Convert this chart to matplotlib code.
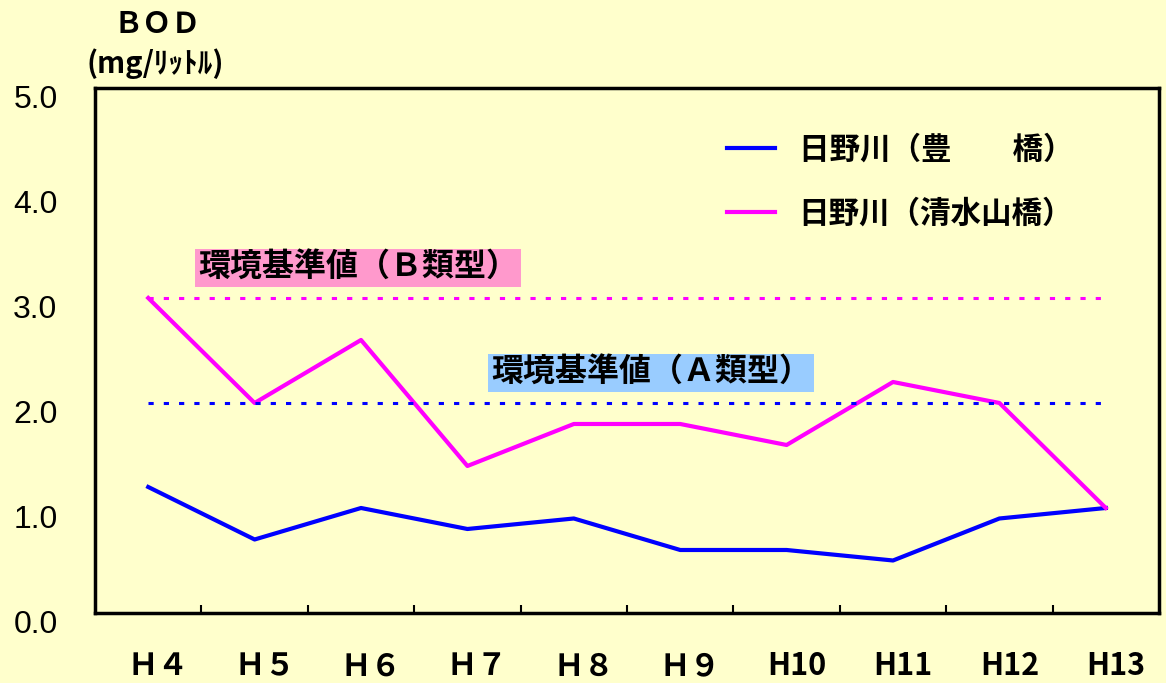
import matplotlib
matplotlib.use("Agg")
import matplotlib.pyplot as plt
from matplotlib.ticker import FixedLocator
from matplotlib.transforms import ScaledTranslation

plt.rcParams['font.family'] = ['Noto Sans CJK JP', 'DejaVu Sans']

# data
years = ['Ｈ４', 'Ｈ５', 'Ｈ６', 'Ｈ７', 'Ｈ８', 'Ｈ９', 'H10', 'H11', 'H12', 'H13']
toyohashi = [1.2, 0.7, 1.0, 0.8, 0.9, 0.6, 0.6, 0.5, 0.9, 1.0]
shimizuyama = [3.0, 2.0, 2.6, 1.4, 1.8, 1.8, 1.6, 2.2, 2.0, 1.0]
std_b = 3.0
std_a = 2.0
series_names = ['日野川（豊\u3000\u3000橋）', '日野川（清水山橋）']
std_labels = ['環境基準値（Ｂ類型）', '環境基準値（Ａ類型）']
y_ticks = [0, 1, 2, 3, 4, 5]
y_labels = ['0.0', '1.0', '2.0', '3.0', '4.0', '5.0']

bg = '#FFFFCC'
fig = plt.figure(figsize=(11.66, 6.83), dpi=100, facecolor=bg)
ax = fig.add_axes([0.0815, 0.1025, 0.9125, 0.7687], facecolor=bg)

x = list(range(len(years)))
ax.plot(x, toyohashi, color='#0000FF', lw=3, label=series_names[0])
ax.plot(x, shimizuyama, color='#FF00FF', lw=3, label=series_names[1])

# standard lines
ax.plot([x[0], x[-1]], [std_b, std_b], color='#FF00FF', lw=2.2, ls=(0, (1.7, 3.3)))
ax.plot([x[0], x[-1]], [std_a, std_a], color='#0000FF', lw=2.2, ls=(0, (1.7, 3.3)))

ax.text(0.47, 3.286, std_labels[0], fontsize=23, fontweight='bold', va='center', ha='left',
        bbox=dict(boxstyle='square,pad=0.1', fc='#FF99CC', ec='none'))
ax.text(3.22, 2.286, std_labels[1], fontsize=23, fontweight='bold', va='center', ha='left',
        bbox=dict(boxstyle='square,pad=0.1', fc='#99CCFF', ec='none'))

ax.set_xlim(-0.5, len(years) - 0.5)
ax.set_ylim(0, 5)

ax.set_xticks(x)
ax.set_xticklabels(years, fontsize=22, fontweight='bold')
ax.xaxis.set_minor_locator(FixedLocator([i + 0.5 for i in range(len(years) - 1)]))
ax.tick_params(axis='x', which='major', length=0, pad=27)
ax.tick_params(axis='x', which='minor', direction='in', length=6, width=1.5)

ax.set_yticks(y_ticks)
ax.set_yticklabels(y_labels, fontsize=23, family=['Liberation Sans'])
ax.tick_params(axis='y', length=0, pad=27)

# labels in the reference sit a bit off their ticks
dx = ScaledTranslation(10 / 100, 0, fig.dpi_scale_trans)
for lab in ax.get_xticklabels():
    lab.set_transform(lab.get_transform() + dx)
dy = ScaledTranslation(0, -9 / 100, fig.dpi_scale_trans)
for lab in ax.get_yticklabels():
    lab.set_transform(lab.get_transform() + dy)

for s in ax.spines.values():
    s.set_linewidth(2.5)

fig.text(157 / 1166, 1 - 24 / 683, 'ＢＯＤ', fontsize=21, fontweight='bold', ha='center', va='center')
fig.text(155 / 1166, 1 - 64 / 683, '(mg/ﾘｯﾄﾙ)', fontsize=21, fontweight='bold', ha='center', va='center')

ax.legend(loc='upper left', bbox_to_anchor=(0.568, 0.965), frameon=False,
          prop={'size': 22, 'weight': 'bold'}, handlelength=1.57, handletextpad=0.78,
          labelspacing=1.05)

fig.savefig('out.png', dpi=100, facecolor=bg)
